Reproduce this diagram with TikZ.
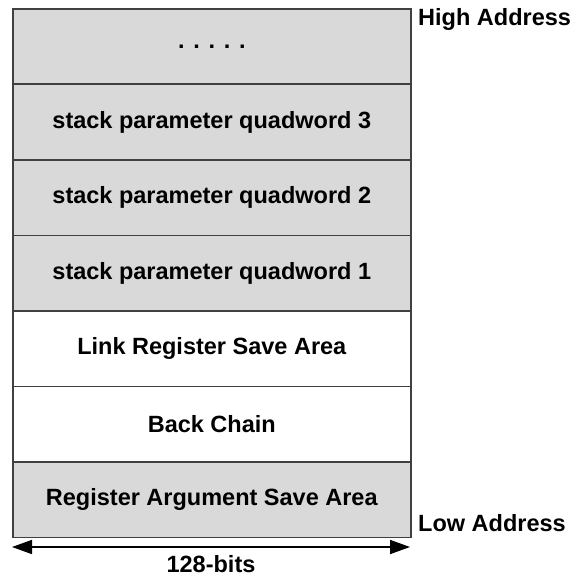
\documentclass[tikz,border=0pt]{standalone}
\usepackage{fontspec}
\setmainfont{Liberation Sans}
\usetikzlibrary{arrows.meta}
\definecolor{cellgray}{HTML}{D9D9D9}
\definecolor{edgegray}{HTML}{404040}
\begin{document}
\begin{tikzpicture}[x=1pt,y=-1pt,
  cell/.style={draw=edgegray,line width=1.6pt,minimum width=398pt,minimum height=75.5pt,inner sep=0pt,anchor=north west,font=\fontsize{23.5}{26}\selectfont\bfseries},
  shaded/.style={cell,fill=cellgray},
  plain/.style={cell,fill=white},
  lbl/.style={font=\fontsize{23.5}{26}\selectfont\bfseries,inner sep=0pt}]
\useasboundingbox (0,0) rectangle (574,577);
\node[shaded] (c0) at (12,8) {. . . . .};
\node[shaded] (c1) at (12,83.5) {stack parameter quadword 3};
\node[shaded] (c2) at (12,159) {stack parameter quadword 2};
\node[shaded] (c3) at (12,234.5) {stack parameter quadword 1};
\node[plain] (c4) at (12,310) {Link Register Save Area};
\node[plain] (c5) at (12,385.5) {Back Chain};
\node[shaded] (c6) at (12,461) {Register Argument Save Area};
\node[lbl,anchor=west] (hi) at (418,19) {High Address};
\node[lbl,anchor=west] (lo) at (418,523) {Low Address};
\coordinate (al) at (12,547);
\coordinate (ar) at (410,547);
\draw[line width=1.6pt,{Triangle[length=20pt,width=14pt]}-{Triangle[length=20pt,width=14pt]}] (al) -- (ar);
\node[lbl,anchor=base] (bits) at (211,572) {128-bits};
\end{tikzpicture}
\end{document}
